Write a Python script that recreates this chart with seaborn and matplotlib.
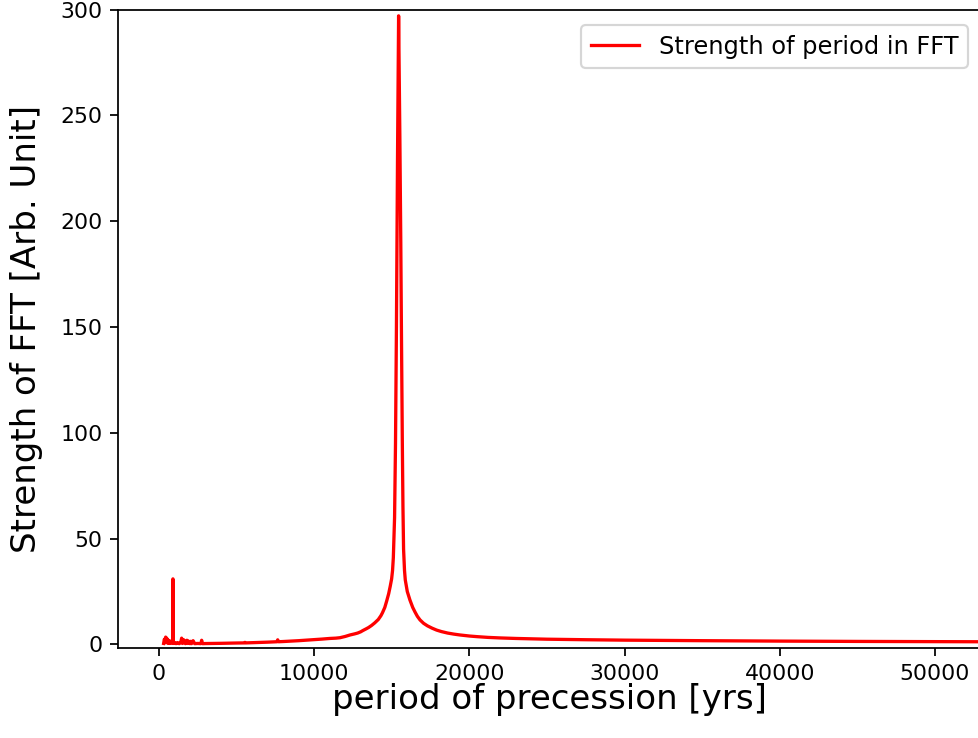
import matplotlib
matplotlib.use("Agg")
import matplotlib.pyplot as plt
import seaborn as sns
import pandas as pd

period = [300, 350, 400, 430, 460, 500, 540, 580, 620, 660, 700, 750, 800, 850, 880,
          900, 920, 950, 1000, 1100, 1200, 1300, 1400, 1460, 1520, 1600, 1700, 1800,
          1850, 1900, 2000, 2050, 2100, 2200, 2300, 2500, 2700, 2750, 2800, 3000, 3500,
          4000, 5000, 5500, 5540, 5600, 6000, 7000, 7600, 7650, 7700, 8000, 9000, 10000,
          10500, 11000, 11400, 11660, 12000, 12310, 12600, 12800, 13000, 13140, 13350,
          13500, 13700, 13900, 14130, 14300, 14400, 14550, 14670, 14800, 14900, 14990,
          15050, 15100, 15180, 15240, 15300, 15370, 15440, 15520, 15580, 15620, 15680,
          15720, 15760, 15820, 15870, 16000, 16170, 16350, 16500, 16650, 16820, 17050,
          17300, 17600, 17890, 18200, 18600, 19000, 19390, 20000, 20500, 21200, 21970,
          23000, 25000, 27500, 30000, 35000, 40000, 45000, 50000, 55000]
strength = [0.5, 2.5, 0.8, 3.5, 1.0, 3.0, 0.7, 2.2, 0.6, 1.8, 0.5, 1.5, 0.6, 1.2, 0.8,
            31.0, 0.9, 0.5, 1.0, 0.4, 0.9, 0.4, 0.8, 3.0, 0.5, 2.2, 0.4, 2.0,
            0.5, 1.6, 0.4, 1.5, 0.4, 1.8, 0.4, 0.5, 0.4, 2.0, 0.4, 0.45, 0.5,
            0.55, 0.7, 0.75, 1.0, 0.75, 0.85, 1.1, 1.3, 2.2, 1.3, 1.4, 1.8, 2.3,
            2.55, 2.85, 3.0, 3.2, 3.8, 4.5, 5.0, 5.4, 6.0, 6.6, 7.4,
            8.0, 9.0, 10.2, 11.8, 13.6, 15.0, 17.5, 20.5, 24.0, 27.5, 31.0,
            35.0, 41.0, 60.0, 95.0, 150.0, 230.0, 297.0, 240.0, 190.0, 150.0, 95.0,
            65.0, 45.0, 35.0, 30.5, 25.0, 21.0, 17.5, 15.3, 13.3, 11.6, 10.0,
            8.8, 7.7, 6.8, 6.1, 5.4, 4.9, 4.5, 4.0, 3.7, 3.35, 3.1,
            2.85, 2.5, 2.25, 2.05, 1.8, 1.6, 1.45, 1.35, 1.25]

series_label = "Strength of period in FFT"
x_label = "period of precession [yrs]"
y_label = "Strength of FFT [Arb. Unit]"

df = pd.DataFrame({"period": period, "strength": strength})

dpi = 158
fig = plt.figure(figsize=(978 / dpi, 738 / dpi), dpi=dpi)
ax = fig.add_axes([118 / 978, 1 - 648.3 / 738, (980 - 118) / 978, (648.3 - 9.5) / 738])

sns.lineplot(data=df, x="period", y="strength", color="red", linewidth=1.5,
             label=series_label, ax=ax, legend=False)

ax.set_xlim(-2640, 52900)
ax.set_ylim(-1.8, 300)
ax.set_xticks([0, 10000, 20000, 30000, 40000, 50000])
ax.set_yticks([0, 50, 100, 150, 200, 250, 300])
ax.set_xlabel(x_label, fontsize=15.5, labelpad=-0.5)
ax.set_ylabel(y_label, fontsize=15.5, labelpad=7.9)

handles, labels = ax.get_legend_handles_labels()
fig.legend(handles, labels, loc="upper right", bbox_to_anchor=(968 / 978, 1 - 25 / 738),
           bbox_transform=fig.transFigure, borderaxespad=0, fontsize=11)

fig.savefig("out.png", dpi=dpi)
